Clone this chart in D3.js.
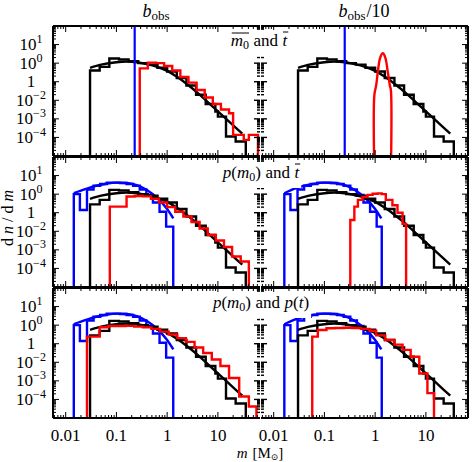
<!DOCTYPE html>
<html><head><meta charset="utf-8">
<script src="https://cdn.jsdelivr.net/npm/d3@7"></script>
<style>
body{margin:0;background:#fff}
svg{display:block}
text{font-family:"Liberation Serif","DejaVu Serif",serif;fill:#000}
</style>
</head><body>
<svg id="c" width="473" height="462"></svg>
<script>
// ---------------- DATA (log10 values) ----------------
const xTickValues = [0.01, 0.1, 1, 10];
const xTickLabels = ["0.01", "0.1", "1", "10"];
const yTickExps   = [1, 0, -1, -2, -3, -4];
const yTickBase   = ["10", "10", "1", "10", "10", "10"];
const yTickSup    = ["1", "0", "", "\u22122", "\u22123", "\u22124"];

// analytic black curve (same in all panels)
const curveLogM = [-1.52, -1.3, -1.0, -0.8, -0.6, -0.4, -0.2, 0.0, 0.2, 0.4, 0.6, 0.8, 1.0, 1.2, 1.48];
const curveLogV = [-0.25, -0.08, 0.05, 0.08, 0.05, -0.05, -0.2, -0.42, -0.75, -1.15, -1.6, -2.1, -2.6, -3.1, -3.8];

// black histogram
const blackEdges   = [-1.52, -1.33, -1.14, -0.95, -0.76, -0.57, -0.38, -0.19, 0.0, 0.19, 0.38, 0.57, 0.76, 0.95, 1.0, 1.16, 1.35, 1.55];
const blackValsTop = [-0.4, -0.2, 0.25, 0.2, 0.1, 0.0, -0.08, -0.25, -0.45, -0.8, -1.2, -1.7, -2.2, -2.6, -2.88, -3.95, -4.22];
const blackValsLow = [-0.55, -0.31, 0.23, 0.2, 0.1, 0.0, -0.08, -0.25, -0.45, -0.8, -1.2, -1.7, -2.2, -2.6, -2.88, -3.95, -4.22];

// blue vertical line position (top row)
const blueLineLogM = [-0.64, -0.60];

// blue histogram (middle and bottom rows)
const blueEdgesL = [-1.84, -1.72, -1.58, -1.45, -1.32, -1.19, -1.06, -0.93, -0.80, -0.67, -0.54, -0.41, -0.28, -0.15, -0.02, 0.12];
const blueEdgesR = [-1.79, -1.67, -1.53, -1.40, -1.27, -1.14, -1.01, -0.88, -0.75, -0.62, -0.49, -0.36, -0.23, -0.10, 0.03, 0.13];
const blueVals   = [0.0, -0.85, 0.25, 0.45, 0.55, 0.62, 0.62, 0.6, 0.55, 0.45, 0.25, -0.05, -0.45, -0.95, -1.75];
const blueCurveLogM = [-1.84, -1.6, -1.4, -1.2, -1.0, -0.8, -0.6, -0.4, -0.2, 0.0, 0.12];
const blueCurveLogV = [0.05, 0.28, 0.45, 0.56, 0.62, 0.6, 0.48, 0.22, -0.2, -0.8, -1.3];

// red, top-left
const redTLEdges = [-0.54, -0.38, -0.22, -0.06, 0.10, 0.26, 0.42, 0.58, 0.74, 0.90, 1.06, 1.22, 1.30, 1.51, 1.61, 1.79];
const redTLVals  = [-0.28, 0.03, 0.0, -0.15, -0.4, -0.75, -1.05, -1.45, -1.85, -2.2, -2.5, -2.7, -3.86, -4.13, -3.86];
// red, top-right (narrow peak)
const redTRLogM = [-0.015, -0.015, 0.02, 0.06, 0.1, 0.15, 0.2, 0.25, 0.29, 0.31, 0.31];
const redTRLogV = [-6, -1.7, -1.2, -0.3, 0.3, 0.53, 0.3, -0.5, -1.2, -1.45, -6];
// red, middle-left
const redMLEdges = [-1.13, -0.97, -0.80, -0.64, -0.48, -0.32, -0.16, 0.0, 0.16, 0.32, 0.48, 0.64, 0.80, 0.96, 1.12, 1.28, 1.45, 1.61];
const redMLVals  = [-0.67, -0.67, -0.13, -0.1, -0.12, -0.25, -0.45, -0.7, -0.95, -1.2, -1.5, -1.85, -2.2, -2.5, -2.85, -3.36, -3.63];
// red, middle-right
const redMREdges = [-0.49, -0.41, -0.34, -0.25, -0.15, -0.05, 0.05, 0.13, 0.21, 0.34, 0.44, 0.54, 0.61];
const redMRVals  = [-1.39, -0.67, -0.31, -0.15, -0.04, 0.02, 0.04, 0.0, -0.31, -0.6, -1.0, -1.6];
// red, bottom-left
const redBLEdges = [-1.58, -1.33, -1.16, -0.99, -0.82, -0.65, -0.48, -0.31, -0.14, 0.03, 0.2, 0.37, 0.54, 0.71, 0.88, 1.05, 1.22, 1.42, 1.61, 1.76];
const redBLVals  = [-0.62, -0.11, -0.05, -0.05, -0.04, -0.08, -0.12, -0.2, -0.35, -0.5, -0.7, -0.9, -1.2, -1.5, -1.85, -2.2, -2.85, -3.84, -4.38];
// red, bottom-right
const redBREdges = [-1.24, -1.13, -0.96, -0.79, -0.62, -0.45, -0.28, -0.11, 0.02, 0.2, 0.38, 0.54, 0.7, 0.87, 1.03, 1.16];
const redBRVals  = [-0.62, -0.26, -0.17, -0.15, -0.14, -0.15, -0.2, -0.3, -0.55, -0.8, -1.05, -1.33, -1.7, -2.6, -3.66];

// ---------------- LAYOUT ----------------
const svg = d3.select("#c");
const colX = [53, 261], colW = 207, rowY = [26, 157, 288], rowH = 130;
const xs = colX.map(c => d3.scaleLog().domain([10 ** -2.25, 10 ** 1.83]).range([c, c + colW]));
const ys = rowY.map(r => d3.scaleLog().domain([1e-5, 1e2]).range([r + rowH, r]));
const BLUE = "#0000ff", RED = "#ff0000", BLACK = "#000";
const LW = 2.4;

const defs = svg.append("defs");
const panelsG = svg.append("g");

function histPts(edges, vals) {
  const pts = [[edges[0], -6]];
  vals.forEach((v, i) => { pts.push([edges[i], v]); pts.push([edges[i + 1], v]); });
  pts.push([edges[edges.length - 1], -6]);
  return pts;
}
function zipPts(a, b) { return a.map((v, i) => [v, b[i]]); }
const blueCurveR = blueCurveLogM.map((v, i) => i === 0 ? blueEdgesR[0] : v);

const panelSpecs = [
  {r: 0, c: 0, black: blackValsTop, blueLine: blueLineLogM[0], red: histPts(redTLEdges, redTLVals)},
  {r: 0, c: 1, black: blackValsTop, blueLine: blueLineLogM[1], red: zipPts(redTRLogM, redTRLogV), redSmooth: true},
  {r: 1, c: 0, black: blackValsLow, blue: histPts(blueEdgesL, blueVals), blueCurve: zipPts(blueCurveLogM, blueCurveLogV), red: histPts(redMLEdges, redMLVals)},
  {r: 1, c: 1, black: blackValsLow, blue: histPts(blueEdgesR, blueVals), blueCurve: zipPts(blueCurveR, blueCurveLogV), red: histPts(redMREdges, redMRVals)},
  {r: 2, c: 0, black: blackValsLow, blue: histPts(blueEdgesL, blueVals), blueCurve: zipPts(blueCurveLogM, blueCurveLogV), red: histPts(redBLEdges, redBLVals)},
  {r: 2, c: 1, black: blackValsLow, blue: histPts(blueEdgesR, blueVals), blueCurve: zipPts(blueCurveR, blueCurveLogV), red: histPts(redBREdges, redBRVals)},
];

panelSpecs.forEach((p, i) => {
  const x = xs[p.c], y = ys[p.r];
  const id = "clip" + i;
  defs.append("clipPath").attr("id", id).append("rect")
    .attr("x", colX[p.c]).attr("y", rowY[p.r]).attr("width", colW).attr("height", rowH);
  const g = panelsG.append("g").attr("clip-path", `url(#${id})`);
  const line = d3.line().x(d => x(10 ** d[0])).y(d => y(10 ** d[1]));
  const smooth = d3.line().x(d => x(10 ** d[0])).y(d => y(10 ** d[1])).curve(d3.curveMonotoneX);
  const draw = (pts, col, gen) => g.append("path").attr("d", (gen || line)(pts))
    .attr("fill", "none").attr("stroke", col).attr("stroke-width", LW).attr("stroke-linejoin", "miter");
  if (p.blue) { draw(p.blue, BLUE); draw(p.blueCurve, BLUE, smooth); }
  draw(zipPts(curveLogM, curveLogV), BLACK, smooth);
  draw(histPts(blackEdges, p.black), BLACK);
  if (p.blueLine !== undefined) {
    g.append("line").attr("x1", x(10 ** p.blueLine)).attr("x2", x(10 ** p.blueLine))
      .attr("y1", rowY[p.r]).attr("y2", rowY[p.r] + rowH).attr("stroke", BLUE).attr("stroke-width", 2.2);
  }
  draw(p.red, RED, p.redSmooth ? d3.line().x(d => x(10 ** d[0])).y(d => y(10 ** d[1])).curve(d3.curveCatmullRom) : null);

  // ticks
  const tg = svg.append("g").attr("stroke", "#000").attr("stroke-width", 1);
  const x0 = colX[p.c], x1 = colX[p.c] + colW, y0 = rowY[p.r], y1 = rowY[p.r] + rowH;
  const xMaj = [], xMin = [];
  for (let d = -3; d <= 1; d++) for (let k = 1; k <= 9; k++) {
    const v = k * 10 ** d; const px = x(v);
    if (px < x0 + 0.5 || px > x1 - 0.5) continue;
    (k === 1 ? xMaj : xMin).push(px);
  }
  xMaj.forEach(px => { tg.append("line").attr("x1", px).attr("x2", px).attr("y1", y1).attr("y2", y1 - 6);
                        tg.append("line").attr("x1", px).attr("x2", px).attr("y1", y0).attr("y2", y0 + 6); });
  xMin.forEach(px => { tg.append("line").attr("x1", px).attr("x2", px).attr("y1", y1).attr("y2", y1 - 3);
                        tg.append("line").attr("x1", px).attr("x2", px).attr("y1", y0).attr("y2", y0 + 3); });
  for (let d = -5; d <= 1; d++) for (let k = 1; k <= 9; k++) {
    const v = k * 10 ** d; const py = y(v);
    if (py < y0 + 0.5 || py > y1 - 0.5) continue;
    const L = k === 1 ? 6 : 3;
    const inner = (xx, dir) => tg.append("line").attr("x1", xx).attr("x2", xx + dir * L).attr("y1", py).attr("y2", py)
      .attr("stroke-width", (p.c === 0 && dir < 0) || (p.c === 1 && dir > 0 && xx === x0) ? 1.4 : 1);
    inner(x0, 1);
    inner(x1, -1);
  }
  // spines
  const sg = svg.append("g").attr("stroke", "#000").attr("stroke-width", 2).attr("fill", "none");
  sg.append("line").attr("x1", x0).attr("x2", x1).attr("y1", y0).attr("y2", y0);
  sg.append("line").attr("x1", x0).attr("x2", x1).attr("y1", y1).attr("y2", y1);
  if (p.c === 0) sg.append("line").attr("x1", x0).attr("x2", x0).attr("y1", y0).attr("y2", y1);
  if (p.c === 1) sg.append("line").attr("x1", x1).attr("x2", x1).attr("y1", y0).attr("y2", y1);
});

// ---------------- TEXT ----------------
const FS = 17;
// y tick labels
rowY.forEach((r, ri) => {
  yTickExps.forEach((e, i) => {
    const t = svg.append("text").attr("x", 31).attr("y", ys[ri](10 ** e) + 5.5)
      .attr("text-anchor", "middle").attr("font-size", FS);
    t.append("tspan").text(yTickBase[i]);
    if (yTickSup[i]) t.append("tspan").attr("dy", -7).attr("font-size", 12).text(yTickSup[i]);
  });
});
// x tick labels
colX.forEach((c, ci) => {
  xTickValues.forEach((v, i) => {
    svg.append("text").attr("x", xs[ci](v)).attr("y", 441).attr("text-anchor", "middle")
      .attr("font-size", FS).text(xTickLabels[i]);
  });
});

// rich-text run layout helper
function runs(parts, cx, by, box) {
  const g = svg.append("g");
  let xpos = 0;
  const items = parts.map(p => {
    const t = g.append("text").attr("x", 0).attr("y", by + (p.dy || 0))
      .attr("font-size", p.size || FS).attr("font-style", p.it ? "italic" : "normal").text(p.t);
    const w = t.node().getComputedTextLength();
    const it = {t, x: xpos, w, p};
    xpos += w + (p.gap || 0);
    return it;
  });
  const total = xpos;
  const left = cx - total / 2;
  if (box) {
    g.insert("rect", "text").attr("x", left - 2).attr("y", by - 16).attr("width", total + 4).attr("height", 26).attr("fill", "#fff");
  }
  items.forEach(it => {
    it.t.attr("x", left + it.x);
    if (it.p.over) {
      g.append("line").attr("x1", left + it.x + (it.p.ox0 || 0)).attr("x2", left + it.x + it.w + (it.p.ox1 || 0))
        .attr("y1", by - it.p.oy).attr("y2", by - it.p.oy).attr("stroke", "#000").attr("stroke-width", 1);
    }
  });
  return g;
}

// column titles
runs([{t: "b", it: true, size: 18}, {t: "obs", size: 13, dy: 3}], 156, 17);
runs([{t: "b", it: true, size: 18}, {t: "obs", size: 13, dy: 3, gap: 1}, {t: "/10", size: 18}], 364, 17);

// row labels
const SP = 4.5;
runs([{t: "m", it: true, over: true, oy: 13, ox0: 1}, {t: "0", size: 12, dy: 3, over: true, oy: 13, gap: SP},
      {t: "and", gap: SP}, {t: "t", it: true, over: true, oy: 14, ox0: 0.5, ox1: 1}], 259, 46, true);
runs([{t: "p", it: true}, {t: "("}, {t: "m", it: true}, {t: "0", size: 12, dy: 3}, {t: ")", gap: SP}, {t: "and", gap: SP},
      {t: "t", it: true, over: true, oy: 14, ox0: 0.5, ox1: 1}], 261, 178, true);
runs([{t: "p", it: true}, {t: "("}, {t: "m", it: true}, {t: "0", size: 12, dy: 3}, {t: ")", gap: SP}, {t: "and", gap: SP},
      {t: "p", it: true}, {t: "("}, {t: "t", it: true}, {t: ")"}], 261, 308, true);

// axis labels
svg.append("text").attr("transform", "translate(13,216) rotate(-90)").attr("text-anchor", "middle")
  .attr("font-size", 16).attr("letter-spacing", 4)
  .html('d<tspan font-style="italic">n</tspan>/d<tspan font-style="italic">m</tspan>');
runs([{t: "m", it: true, size: 15, gap: 5}, {t: "[M", size: 15}, {t: "\u2299", size: 9, dy: 2}, {t: "]", size: 15}], 260, 457.5);
</script>
</body></html>
